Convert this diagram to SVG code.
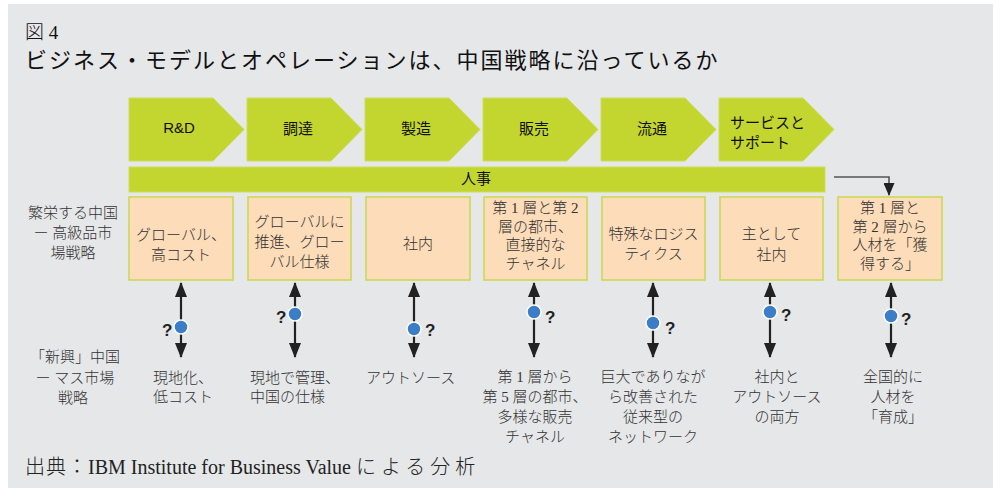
<svg xmlns="http://www.w3.org/2000/svg" width="993" height="488" viewBox="0 0 993 488">
<style>
.bg{fill:#e6e7e9}
.chev{fill:#c3d62f;stroke:#cddd5a;stroke-width:1}
.box{fill:#fddcb9;stroke:#c8d94f;stroke-width:1.5}
.ct{font-family:"Liberation Sans","Noto Sans CJK JP",sans-serif;font-size:15px;fill:#111;text-anchor:middle}
.bt{font-family:"Liberation Serif","Noto Sans CJK JP",serif;font-size:15px;font-weight:300;fill:#333;text-anchor:middle}
.lt{font-family:"Liberation Serif","Noto Sans CJK JP",serif;font-size:15px;font-weight:300;fill:#333}
.q{font-family:"Liberation Sans","Noto Sans",sans-serif;font-size:17px;font-weight:bold;fill:#222}
.dbl{stroke:#222;stroke-width:2.2;fill:none;marker-start:url(#ah);marker-end:url(#ah)}
.dot{fill:#3b7dc6;stroke:#fff;stroke-width:1.5}
</style>
<defs>
<marker id="ah" viewBox="0 0 15 12" refX="14" refY="6" markerWidth="15" markerHeight="12" orient="auto-start-reverse" markerUnits="userSpaceOnUse"><path d="M0,0 L15,6 L0,12 z" fill="#222"/></marker>
<marker id="ah2" viewBox="0 0 14 12" refX="13" refY="6" markerWidth="14" markerHeight="11" orient="auto" markerUnits="userSpaceOnUse"><path d="M0,0 L14,6 L0,12 z" fill="#222"/></marker>
</defs>
<rect class="bg" x="8" y="4" width="985" height="484"/>
<text x="25" y="39" style="font-family:'Liberation Serif','Noto Sans CJK JP',serif;font-size:19px;font-weight:300;fill:#111">図 4</text>
<text x="25" y="68" style="font-family:'Liberation Sans','Noto Sans CJK JP',sans-serif;font-size:22px;letter-spacing:2px;fill:#111">ビジネス・モデルとオペレーションは、中国戦略に沿っているか</text>

<g id="chev-rd"><path class="chev" d="M129,98 h84 l31,31.5 l-31,31.5 h-84 z"/><text class="ct" x="179" y="133">R&amp;D</text></g>
<g id="chev-procure"><path class="chev" d="M247,98 h84 l31,31.5 l-31,31.5 h-84 z"/><text class="ct" x="298" y="134">調達</text></g>
<g id="chev-mfg"><path class="chev" d="M365,98 h84 l31,31.5 l-31,31.5 h-84 z"/><text class="ct" x="416" y="134">製造</text></g>
<g id="chev-sales"><path class="chev" d="M483,98 h84 l31,31.5 l-31,31.5 h-84 z"/><text class="ct" x="534" y="134">販売</text></g>
<g id="chev-dist"><path class="chev" d="M601,98 h84 l31,31.5 l-31,31.5 h-84 z"/><text class="ct" x="652" y="134">流通</text></g>
<g id="chev-service"><path class="chev" d="M719,98 h84 l31,31.5 l-31,31.5 h-84 z"/><text class="ct" x="730" y="128" style="text-anchor:start">サービスと</text><text class="ct" x="730" y="148" style="text-anchor:start">サポート</text></g>
<g id="hr-bar"><rect class="chev" x="129" y="167" width="696" height="25"/><text class="ct" x="476" y="184">人事</text></g>

<g id="label-top"><text class="lt" x="73" y="218" text-anchor="middle">繁栄する中国</text><text class="lt" x="73" y="238" text-anchor="middle">ー 高級品市</text><text class="lt" x="73" y="258" text-anchor="middle">場戦略</text></g>
<g id="label-bottom"><text class="lt" x="75" y="362" text-anchor="middle">「新興」中国</text><text class="lt" x="75" y="383" text-anchor="middle">ー マス市場</text><text class="lt" x="73" y="403" text-anchor="middle">戦略</text></g>

<g id="box1"><rect class="box" x="129" y="197" width="104" height="83"/><text class="bt" x="181" y="240">グローバル、</text><text class="bt" x="181" y="260">高コスト</text></g>
<g id="box2"><rect class="box" x="248" y="197" width="103" height="83"/><text class="bt" x="299.5" y="227">グローバルに</text><text class="bt" x="299.5" y="247">推進、グロー</text><text class="bt" x="299.5" y="267">バル仕様</text></g>
<g id="box3"><rect class="box" x="366" y="197" width="104" height="83"/><text class="bt" x="418" y="249">社内</text></g>
<g id="box4"><rect class="box" x="484" y="197" width="103" height="83"/><text class="bt" x="535.5" y="213">第 1 層と第 2</text><text class="bt" x="535.5" y="232">層の都市、</text><text class="bt" x="535.5" y="250">直接的な</text><text class="bt" x="535.5" y="269">チャネル</text></g>
<g id="box5"><rect class="box" x="602" y="197" width="103" height="83"/><text class="bt" x="653.5" y="239">特殊なロジス</text><text class="bt" x="653.5" y="259">ティクス</text></g>
<g id="box6"><rect class="box" x="720" y="197" width="103" height="83"/><text class="bt" x="771.5" y="239">主として</text><text class="bt" x="771.5" y="260">社内</text></g>
<g id="box7"><rect class="box" x="838" y="197" width="104" height="83"/><text class="bt" x="890" y="213">第 1 層と</text><text class="bt" x="890" y="232">第 2 層から</text><text class="bt" x="890" y="250">人材を「獲</text><text class="bt" x="890" y="269">得する」</text></g>

<g id="connectors">
<path d="M834,177 H889 V195" fill="none" stroke="#555" stroke-width="1.6" marker-end="url(#ah2)"/>
<line class="dbl" x1="181" y1="283" x2="181" y2="357"/>
<line class="dbl" x1="295" y1="283" x2="295" y2="357"/>
<line class="dbl" x1="414" y1="283" x2="414" y2="357"/>
<line class="dbl" x1="534" y1="283" x2="534" y2="357"/>
<line class="dbl" x1="653" y1="283" x2="653" y2="357"/>
<line class="dbl" x1="770" y1="283" x2="770" y2="357"/>
<line class="dbl" x1="891" y1="283" x2="891" y2="357"/>
</g>

<g id="markers">
<circle class="dot" cx="181" cy="327" r="7"/><text class="q" x="162" y="336">?</text>
<circle class="dot" cx="295" cy="314" r="7"/><text class="q" x="276" y="323">?</text>
<circle class="dot" cx="414" cy="329" r="7"/><text class="q" x="425" y="336">?</text>
<circle class="dot" cx="534" cy="312" r="7"/><text class="q" x="545" y="323">?</text>
<circle class="dot" cx="653" cy="323" r="7"/><text class="q" x="665" y="334">?</text>
<circle class="dot" cx="770" cy="312" r="7"/><text class="q" x="781" y="321">?</text>
<circle class="dot" cx="891" cy="316" r="7"/><text class="q" x="901" y="325">?</text>
</g>

<g id="bottom-texts">
<text class="lt" x="153" y="383">現地化、</text><text class="lt" x="153" y="402">低コスト</text>
<text class="lt" x="250" y="383">現地で管理、</text><text class="lt" x="250" y="402">中国の仕様</text>
<text class="lt" x="366" y="383">アウトソース</text>
<text class="bt" x="535" y="382">第 1 層から</text><text class="bt" x="535" y="402">第 5 層の都市、</text><text class="bt" x="535" y="422">多様な販売</text><text class="bt" x="535" y="442">チャネル</text>
<text class="bt" x="653" y="382">巨大でありなが</text><text class="bt" x="653" y="402">ら改善された</text><text class="bt" x="653" y="422">従来型の</text><text class="bt" x="653" y="442">ネットワーク</text>
<text class="bt" x="777" y="382">社内と</text><text class="bt" x="777" y="402">アウトソース</text><text class="bt" x="777" y="422">の両方</text>
<text class="bt" x="893" y="382">全国的に</text><text class="bt" x="893" y="402">人材を</text><text class="bt" x="893" y="422">「育成」</text>
</g>
<text x="25" y="474" style="font-family:'Liberation Serif','Noto Sans CJK JP',serif;font-size:20px;font-weight:300;fill:#222"><tspan letter-spacing="1">出典：</tspan>IBM Institute for Business Value <tspan letter-spacing="5">による分析</tspan></text>
</svg>
